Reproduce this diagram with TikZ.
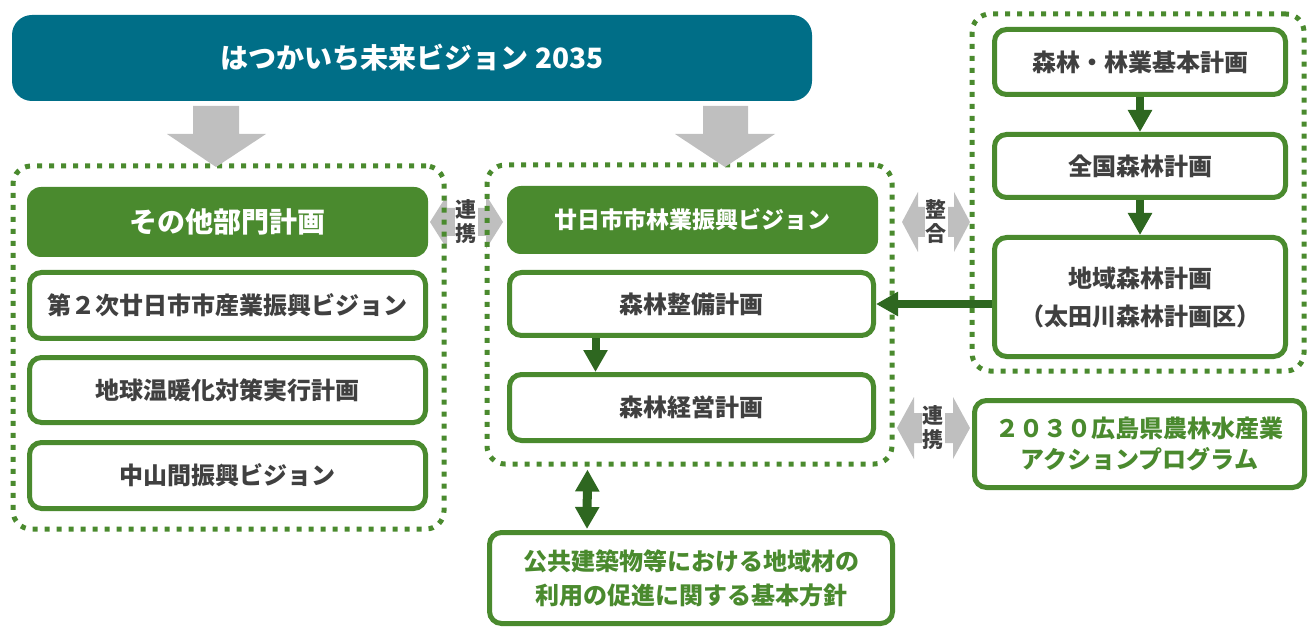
\documentclass[tikz,border=0pt]{standalone}
\usepackage{fontspec}
\newfontfamily\jp{Noto Sans CJK JP}
\usetikzlibrary{arrows.meta,calc}
\definecolor{titlecol}{HTML}{006E87}
\definecolor{gr}{HTML}{4A8A2E}
\definecolor{dg}{HTML}{2E6720}
\definecolor{gy}{HTML}{BFBFBF}
\definecolor{txt}{HTML}{404040}
\begin{document}
\begin{tikzpicture}[x=1pt,y=-1pt,
  plainbox/.style={draw=gr, line width=5pt, rounded corners=12pt, fill=white, text=txt, align=center, inner sep=0pt, font=\jp\bfseries\fontsize{24}{34}\selectfont},
  fillbox/.style={fill=gr, rounded corners=14pt, text=white, align=center, inner sep=0pt},
  dotbox/.style={draw=gr, line width=5pt, dash pattern=on 5pt off 7pt, rounded corners=18pt, inner sep=0pt},
  darrow/.style={draw=dg, line width=8pt, -{Triangle[width=23pt,length=22pt]}},
  ddarrow/.style={draw=dg, line width=9pt, {Triangle[width=23pt,length=22pt]}-{Triangle[width=23pt,length=22pt]}},
  glabel/.style={text=txt, align=center, inner sep=1pt, fill=white, font=\jp\bfseries\fontsize{21}{24}\selectfont},
  grayarrow/.style={fill=gy}
]
\useasboundingbox (0,0) rectangle (1312,628);

% side double arrows (behind containers)
\fill[grayarrow] (430,222) -- (447,195) -- (447,208) -- (486,208) -- (486,195) -- (503,222) -- (486,249) -- (486,236) -- (447,236) -- (447,249) -- cycle;
\fill[grayarrow] (902,222) -- (918,192) -- (918,207) -- (954,207) -- (954,192) -- (970,222) -- (954,252) -- (954,237) -- (918,237) -- (918,252) -- cycle;
\fill[grayarrow] (897,428) -- (914,397) -- (914,413) -- (953,413) -- (953,397) -- (970,428) -- (953,459) -- (953,443) -- (914,443) -- (914,459) -- cycle;

% title
\node[fillbox, fill=titlecol, rounded corners=20pt, minimum width=800pt, minimum height=86pt, font=\jp\bfseries\fontsize{28}{32}\selectfont] (title) at (412,58) {はつかいち未来ビジョン 2035};

% left group
\node[dotbox, minimum width=431pt, minimum height=363pt] (leftgrp) at (228.5,347.5) {};
\node[fillbox, minimum width=401pt, minimum height=70pt, font=\jp\bfseries\fontsize{28}{32}\selectfont] (other) at (227.5,222) {その他部門計画};
\node[plainbox, minimum width=396pt, minimum height=66pt] (sangyo) at (227.5,305.5) {第２次廿日市市産業振興ビジョン};
\node[plainbox, minimum width=396pt, minimum height=65pt] (ondanka) at (227.5,390) {地球温暖化対策実行計画};
\node[plainbox, minimum width=396pt, minimum height=66pt] (chusan) at (227.5,475.5) {中山間振興ビジョン};

% middle group
\node[dotbox, minimum width=405pt, minimum height=299pt] (midgrp) at (689.5,314.5) {};
\node[fillbox, minimum width=371pt, minimum height=68pt, font=\jp\bfseries\fontsize{23}{28}\selectfont] (vision) at (692.5,220) {廿日市市林業振興ビジョン};
\node[plainbox, minimum width=364pt, minimum height=63pt] (seibi) at (691.5,304) {森林整備計画};
\node[plainbox, minimum width=364pt, minimum height=66pt] (keiei) at (691.5,407.5) {森林経営計画};
\node[plainbox, text=gr, minimum width=403pt, minimum height=91pt] (kokyo) at (691,578) {公共建築物等における地域材の\\利用の促進に関する基本方針};

% right group
\node[dotbox, minimum width=332pt, minimum height=357pt] (rightgrp) at (1138,192.5) {};
\node[plainbox, minimum width=291pt, minimum height=65pt] (kihon) at (1140,62) {森林・林業基本計画};
\node[plainbox, minimum width=291pt, minimum height=63pt] (zenkoku) at (1140,166) {全国森林計画};
\node[plainbox, minimum width=291pt, minimum height=119pt, font=\jp\bfseries\fontsize{24}{38}\selectfont] (chiiki) at (1140,297) {地域森林計画\\（太田川森林計画区）};
\node[plainbox, text=gr, minimum width=330pt, minimum height=87pt, font=\jp\bfseries\fontsize{24}{31}\selectfont] (action) at (1139.5,444) {２０３０広島県農林水産業\\アクションプログラム};

% top gray arrows
\fill[grayarrow] (193,106) -- (239,106) -- (239,134) -- (266,134) -- (216,167) -- (167,134) -- (193,134) -- cycle;
\fill[grayarrow] (703,106) -- (748,106) -- (748,134) -- (775,134) -- (725,167) -- (675,134) -- (703,134) -- cycle;

% labels of gray arrows
\node[glabel] (renkei1) at (466,222) {連\\携};
\node[glabel] (seigo) at (936,222) {整\\合};
\node[glabel] (renkei2) at (933,428) {連\\携};

% dark green arrows
\draw[darrow] ([xshift=-96pt]seibi.south) -- ([xshift=-96pt]keiei.north);
\draw[darrow] (kihon.south) -- (zenkoku.north);
\draw[darrow] (zenkoku.south) -- (chiiki.north);
\draw[darrow] (chiiki.west |- seibi.east) -- (seibi.east);
\draw[ddarrow, shorten <=3pt, shorten >=1pt] ([xshift=-102pt]midgrp.south) -- ([xshift=-104pt]kokyo.north);
\end{tikzpicture}
\end{document}
